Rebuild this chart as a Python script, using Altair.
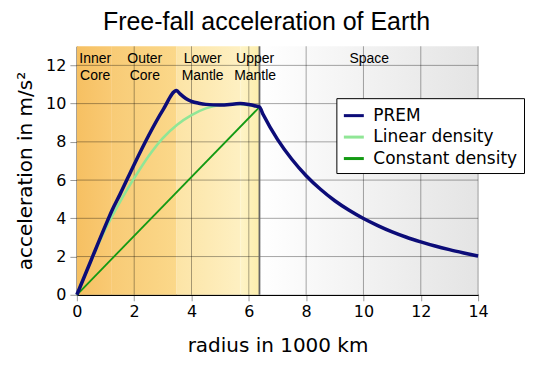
import altair as alt
import pandas as pd

# ---- data ----
prem_r = [0, 0.5, 1.0, 1.221, 1.5, 2.0, 2.5, 3.0, 3.48, 3.6, 3.8, 4.0, 4.25, 4.5, 5.0, 5.5, 5.7, 6.0, 6.2, 6.371,
          6.5, 7.0, 7.5, 8.0, 8.5, 9.0, 9.5, 10.0, 10.5, 11.0, 11.5, 12.0, 12.5, 13.0, 13.5, 14.0]
prem_g = [0, 1.82, 3.63, 4.40, 5.24, 6.82, 8.32, 9.66, 10.68, 10.51, 10.27, 10.12, 10.02, 9.96, 9.93, 9.98, 10.00, 9.95, 9.89, 9.82,
          9.43, 8.13, 7.09, 6.23, 5.52, 4.92, 4.42, 3.99, 3.62, 3.29, 3.01, 2.77, 2.55, 2.36, 2.19, 2.03]
lin_r = [0, 0.5, 1.0, 1.5, 2.0, 2.5, 3.0, 3.5, 4.0, 4.5, 5.0, 5.5, 6.0, 6.371]
lin_g = [0, 1.80, 3.45, 4.85, 6.10, 7.25, 8.20, 8.90, 9.40, 9.75, 9.93, 9.98, 9.92, 9.82]
const_r = [0, 6.371]
const_g = [0, 9.82]

series = ["PREM", "Linear density", "Constant density"]
series_colors = ["#0c0c78", "#90e696", "#139a13"]

band_start = [0, 1.221, 3.48, 5.701, 6.371]
band_end = [1.221, 3.48, 5.701, 6.371, 14]
band_left_color = ["#f6c062", "#f8cb76", "#fce4a6", "#fef4c8", "#ffffff"]
band_right_color = ["#f9ca74", "#fbd88a", "#fef0c2", "#fcedab", "#e4e4e4"]

region_names = ["Inner\nCore", "Outer\nCore", "Lower\nMantle", "Upper\nMantle", "Space"]
region_pos = [0.64, 2.37, 4.39, 6.22, 10.2]

x_ticks = [0, 2, 4, 6, 8, 10, 12, 14]
y_ticks = [0, 2, 4, 6, 8, 10, 12]
x_grid = [2, 4, 6, 8, 10, 12, 14]
y_grid = [2, 4, 6, 8, 10, 12]
surface = [6.371]

# ---- chart ----
FONT = "DejaVu Sans"
xscale = alt.Scale(domain=[0, 14], nice=False, zero=False)
yscale = alt.Scale(domain=[0, 13], nice=False, zero=False)

xaxis = alt.Axis(values=x_ticks, grid=False, title="radius in 1000 km", titleFont=FONT, titleFontSize=20,
                 titleFontWeight="normal", titleColor="black", titleX=201, titleY=57, titleBaseline="alphabetic",
                 labelFont=FONT, labelFontSize=16, labelColor="black", labelPadding=3, labelFlush=False,
                 tickColor="#999999", tickSize=6, domainColor="black", domainWidth=1.5)
yaxis = alt.Axis(values=y_ticks, grid=False, title="acceleration in m/s²", titleFont=FONT, titleFontSize=20,
                 titleFontWeight="normal", titleColor="black", titleX=-41, titleY=124.5, titleAngle=-90,
                 titleBaseline="bottom", titleAlign="center",
                 labelFont=FONT, labelFontSize=16, labelColor="black", labelPadding=4, labelFlush=False,
                 tickColor="#999999", tickSize=7, domainColor="black", domainWidth=1.5)


def X(field):
    return alt.X(field, type="quantitative", scale=xscale, axis=xaxis)


def Y(field):
    return alt.Y(field, type="quantitative", scale=yscale, axis=yaxis)


layers = []
for i in range(len(band_start)):
    bdf = pd.DataFrame({"r": [band_start[i]], "r1": [band_end[i]], "g": [0], "g1": [13]})
    grad = alt.Gradient(gradient="linear", x1=0, y1=0, x2=1, y2=0,
                        stops=[alt.GradientStop(offset=0, color=band_left_color[i]),
                               alt.GradientStop(offset=1, color=band_right_color[i])])
    layers.append(alt.Chart(bdf).mark_rect(color=grad, strokeWidth=0).encode(
        x=X("r"), x2="r1", y=Y("g"), y2="g1"))

vg = alt.Chart(pd.DataFrame({"r": x_grid})).mark_rule(color="black", opacity=0.35, strokeWidth=1).encode(x=X("r"))
hg = alt.Chart(pd.DataFrame({"g": y_grid})).mark_rule(color="black", opacity=0.35, strokeWidth=1).encode(y=Y("g"))
sf = alt.Chart(pd.DataFrame({"r": surface})).mark_rule(color="#666666", strokeWidth=1.8).encode(x=X("r"))
layers += [vg, hg, sf]

labels = alt.Chart(pd.DataFrame({"r": region_pos, "name": region_names})).mark_text(
    font="Liberation Sans", fontSize=14, color="black", align="center", baseline="alphabetic", lineBreak="\n",
    lineHeight=17
).encode(x=X("r"), y=alt.value(17), text="name:N")
layers.append(labels)

legend = alt.Legend(title=None, orient="none", legendX=260, legendY=52, fillColor="white", strokeColor="black",
                    padding=6, labelFont=FONT, labelFontSize=17, labelColor="black", symbolType="stroke",
                    symbolSize=400, symbolStrokeWidth=3, labelOffset=8, rowPadding=1.5, cornerRadius=0)
color = alt.Color("series:N", scale=alt.Scale(domain=series, range=series_colors), legend=legend)

const_df = pd.DataFrame({"r": const_r, "g": const_g, "series": series[2]})
lin_df = pd.DataFrame({"r": lin_r, "g": lin_g, "series": series[1]})
prem_df = pd.DataFrame({"r": prem_r, "g": prem_g, "series": series[0]})

layers.append(alt.Chart(const_df).mark_line(strokeWidth=1.8).encode(x=X("r"), y=Y("g"), color=color))
layers.append(alt.Chart(lin_df).mark_line(strokeWidth=2.6, interpolate="monotone").encode(x=X("r"), y=Y("g"), color=color))
layers.append(alt.Chart(prem_df).mark_line(strokeWidth=3.5, interpolate="monotone").encode(x=X("r"), y=Y("g"), color=color))

chart = alt.layer(*layers).properties(
    width=402, height=249,
    autosize=alt.AutoSizeParams(type="none"),
    padding={"left": 69, "top": 38, "right": 54, "bottom": 64},
    title=alt.TitleParams("Free-fall acceleration of Earth", font="Liberation Sans", fontSize=25,
                          fontWeight="normal", color="black", anchor="middle", dx=-11, offset=10),
).configure_view(stroke=None)

chart.save("out.html", embed_options={"renderer": "svg", "actions": False})
